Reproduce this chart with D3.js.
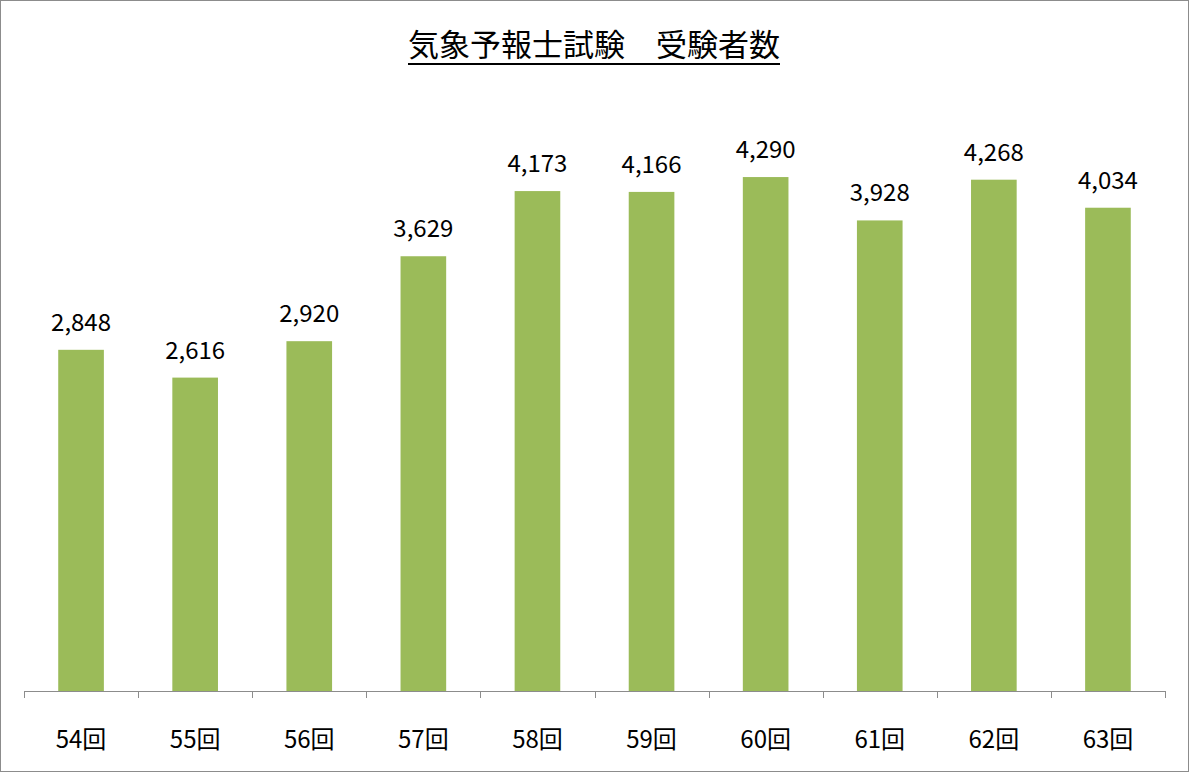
<!DOCTYPE html>
<html>
<head>
<meta charset="utf-8">
<script src="https://cdn.jsdelivr.net/npm/d3@7"></script>
<style>
  body { margin: 0; background: #fff; }
  text { font-family: "Noto Sans CJK JP", "Noto Sans", sans-serif; }
</style>
</head>
<body>
<svg id="chart" width="1189" height="772"></svg>
<script>
// data
const rounds = ['54回', '55回', '56回', '57回', '58回', '59回', '60回', '61回', '62回', '63回']
const takers = [2848, 2616, 2920, 3629, 4173, 4166, 4290, 3928, 4268, 4034]

const svg = d3.select('#chart')
const plotLeft = 24, plotRight = 1165, plotTop = 92, plotBottom = 691

svg.append('rect')
  .attr('x', 0.5).attr('y', 0.5)
  .attr('width', 1188).attr('height', 771)
  .attr('fill', '#fff').attr('stroke', '#8c8c8c')

let x = d3.scaleBand().domain(rounds).range([plotLeft, plotRight]).paddingInner(0.6).paddingOuter(0.3)
let y = d3.scaleLinear().domain([0, 5000]).range([plotBottom, plotTop])

// title
const title = svg.append('text')
  .attr('x', 594).attr('y', 56)
  .attr('text-anchor', 'middle')
  .attr('font-size', 31)
  .text('気象予報士試験　受験者数')
const tb = title.node().getBBox()
svg.append('line')
  .attr('x1', tb.x).attr('x2', tb.x + tb.width)
  .attr('y1', 64).attr('y2', 64)
  .attr('stroke', '#000').attr('stroke-width', 2)

svg.selectAll('rect.bar')
  .data(takers)
  .enter()
  .append('rect')
  .attr('class', 'bar')
  .attr('x', (d, i) => x(rounds[i]))
  .attr('y', d => y(d))
  .attr('width', x.bandwidth())
  .attr('height', d => plotBottom - y(d))
  .attr('fill', '#9bbb59')

svg.selectAll('text.val')
  .data(takers)
  .enter()
  .append('text')
  .attr('class', 'val')
  .attr('x', (d, i) => x(rounds[i]) + x.bandwidth() / 2)
  .attr('y', d => y(d) - 19)
  .attr('text-anchor', 'middle')
  .attr('font-size', 24)
  .text(d => d3.format(',')(d))

// axis: baseline, ticks between categories
svg.append('line')
  .attr('x1', plotLeft).attr('x2', plotRight)
  .attr('y1', plotBottom + 0.5).attr('y2', plotBottom + 0.5)
  .attr('stroke', '#8c8c8c')
d3.range(11).forEach(i => {
  const tx = Math.round(plotLeft + i * (plotRight - plotLeft) / 10) + 0.5
  svg.append('line')
    .attr('x1', tx).attr('x2', tx)
    .attr('y1', plotBottom).attr('y2', plotBottom + 7)
    .attr('stroke', '#8c8c8c')
})
svg.selectAll('text.cat')
  .data(rounds)
  .enter()
  .append('text')
  .attr('class', 'cat')
  .attr('x', d => x(d) + x.bandwidth() / 2)
  .attr('y', 748)
  .attr('text-anchor', 'middle')
  .attr('font-size', 24)
  .text(d => d)
</script>
</body>
</html>
